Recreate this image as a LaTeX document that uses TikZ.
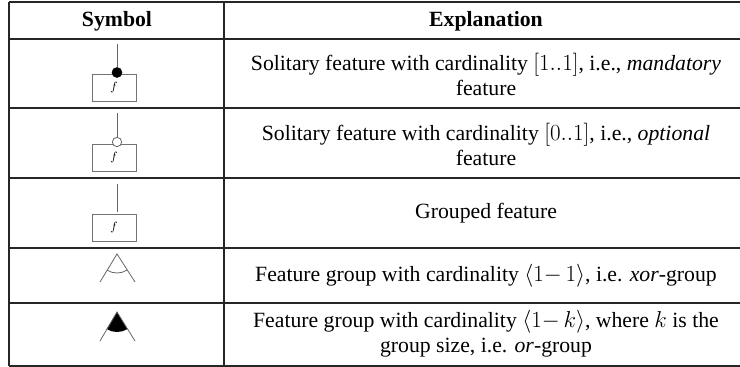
\documentclass[tikz,border=0pt]{standalone}
\usepackage{fontspec}
\setmainfont{Liberation Serif}
\begin{document}
\begin{tikzpicture}[x=0.75pt,y=-0.75pt,
  rule/.style={draw=black!85,line width=1.1pt},
  txt/.style={font=\fontsize{16.3}{18.75}\selectfont,align=center,inner sep=0pt},
  head/.style={txt,font=\fontsize{16.3}{18.75}\selectfont\bfseries},
  stem/.style={draw=black!60,line width=0.6pt},
  fbox/.style={draw=black!55,line width=0.7pt,minimum width=33pt,minimum height=20.25pt,inner sep=0pt,
    font=\fontsize{9.5}{10}\selectfont},
  mandot/.style={circle,fill=black,draw=black,inner sep=0pt,minimum size=7.5pt},
  optdot/.style={circle,fill=white,draw=black!60,line width=0.6pt,inner sep=0pt,minimum size=7pt}
]
\useasboundingbox (0,0) rectangle (740,367);

% table rules
\draw[rule] (9,2) -- (750,2);
\draw[rule] (9,39) -- (750,39);
\draw[rule] (9,108) -- (750,108);
\draw[rule] (9,178) -- (750,178);
\draw[rule] (9,248) -- (750,248);
\draw[rule] (9,303) -- (750,303);
\draw[rule] (9,366) -- (750,366);
\draw[rule] (9,2) -- (9,366);
\draw[rule] (224,2) -- (224,366);

% header
\node[head] (hsym) at (117,21) {Symbol};
\node[head] (hexp) at (486,21) {Explanation};

% row 1: mandatory feature
\coordinate (t1) at (117,44);
\node[fbox] (f1) at (114,88) {$f$};
\node[mandot] (d1) at (117,72.5) {};
\draw[stem] (t1) -- (d1);
\node[txt] (e1) at (486,74.5) {Solitary feature with cardinality $[1..1]$, i.e., \textit{mandatory}\\feature};

% row 2: optional feature
\coordinate (t2) at (117,113);
\node[fbox] (f2) at (114,158) {$f$};
\node[optdot] (d2) at (117,142) {};
\draw[stem] (t2) -- (d2);
\node[txt] (e2) at (486,144.5) {Solitary feature with cardinality $[0..1]$, i.e., \textit{optional}\\feature};

% row 3: grouped feature
\coordinate (t3) at (117,184);
\node[fbox] (f3) at (114,227.5) {$f$};
\draw[stem] (t3) -- (117,212);
\node[txt] (e3) at (486,213) {Grouped feature};

% row 4: xor-group
\coordinate (a4) at (117,254);
\coordinate (l4) at (100,282);
\coordinate (r4) at (135,282);
\draw[stem] (l4) -- (a4) -- (r4);
\draw[stem] ([shift={(238.7:14.25pt)}]a4) arc[start angle=238.7,end angle=301.3,radius=14.25pt];
\node[txt] (e4) at (486,276) {Feature group with cardinality $\langle 1{-}\,1\rangle$, i.e. \textit{xor}-group};

% row 5: or-group
\coordinate (a5) at (117,312);
\coordinate (l5) at (100,341);
\coordinate (r5) at (135,341);
\fill[black] (a5) -- ([shift={(238.7:15pt)}]a5) arc[start angle=238.7,end angle=301.3,radius=15pt] -- cycle;
\draw[stem] (l5) -- (a5) -- (r5);
\node[txt] (e5) at (486,334) {Feature group with cardinality $\langle 1{-}\,k\rangle$, where $k$ is the\\group size, i.e. \textit{or}-group};
\end{tikzpicture}
\end{document}
